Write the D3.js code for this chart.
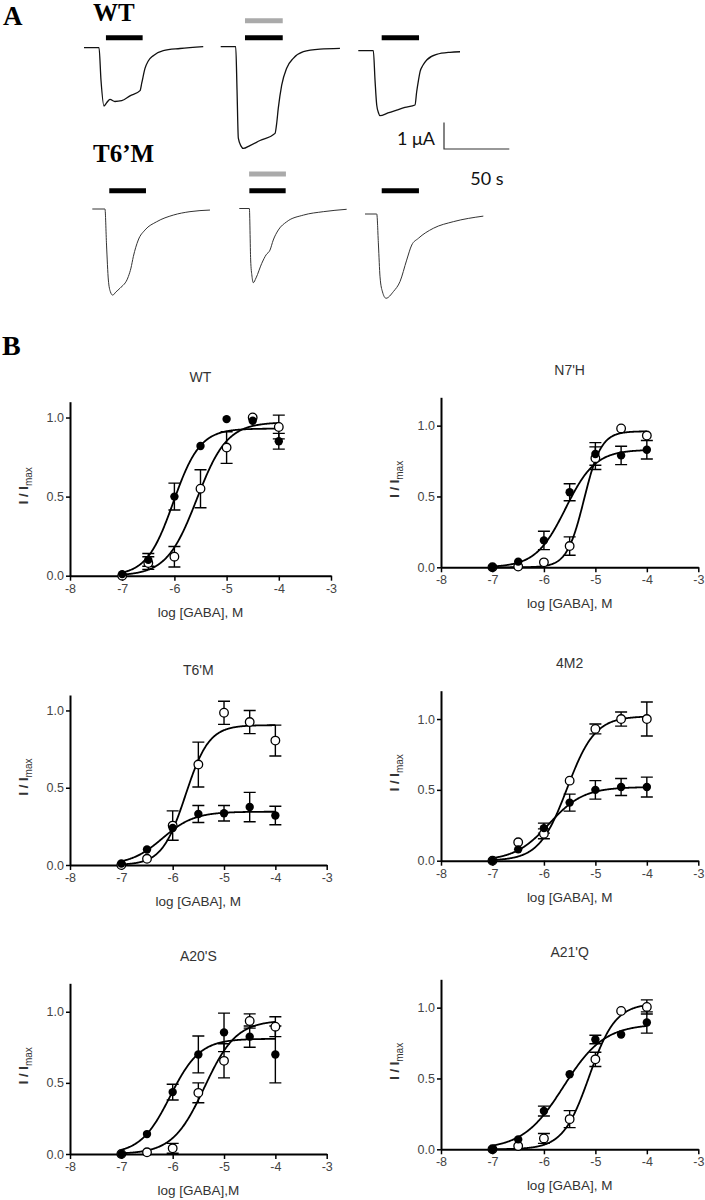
<!DOCTYPE html>
<html><head><meta charset="utf-8">
<script src="https://cdn.jsdelivr.net/npm/d3@7"></script>
<style>body{margin:0;background:#fff}svg{display:block}</style>
</head><body>
<svg id="fig" width="705" height="1200"></svg>
<script>
// ================= DATA =================
// Panel B: concentration-response (log [GABA], M)
const logConc = [-7, -6.5, -6, -5.5, -5, -4.5, -4];
const xTicks = [-8, -7, -6, -5, -4, -3];
const yTicks = [0, 0.5, 1.0];
const panelTitles = ["WT", "N7'H", "T6'M", "4M2", "A20'S", "A21'Q"];
const xLabels = ["log [GABA], M", "log [GABA], M", "log [GABA], M", "log [GABA], M", "log [GABA],M", "log [GABA], M"];
const yMaxes = [1.1, 1.2, 1.1, 1.2, 1.2, 1.2];

// filled circles (mean, SEM) and open circles (mean, SEM)
const wtFilled     = [0.01, 0.10, 0.50, 0.82, 0.99, 0.98, 0.85];
const wtFilledErr  = [0, 0.04, 0.085, 0, 0, 0, 0.05];
const wtOpen       = [0.00, 0.08, 0.12, 0.55, 0.81, 1.00, 0.94];
const wtOpenErr    = [0, 0.04, 0.065, 0.12, 0.10, 0, 0.075];

const n7Filled     = [0.00, 0.04, 0.19, 0.53, 0.80, 0.79, 0.83];
const n7FilledErr  = [0, 0, 0.065, 0.06, 0.08, 0.065, 0.065];
const n7Open       = [0.00, 0.005, 0.035, 0.15, 0.77, 0.98, 0.93];
const n7OpenErr    = [0, 0, 0, 0.065, 0.08, 0, 0];

const t6Filled     = [0.01, 0.10, 0.24, 0.33, 0.335, 0.375, 0.32];
const t6FilledErr  = [0, 0, 0, 0.055, 0.05, 0.095, 0.06];
const t6Open       = [0.00, 0.04, 0.255, 0.65, 0.985, 0.925, 0.805];
const t6OpenErr    = [0, 0, 0.095, 0.145, 0.075, 0.075, 0.10];

const m4Filled     = [0.00, 0.08, 0.23, 0.41, 0.50, 0.52, 0.52];
const m4FilledErr  = [0, 0, 0.035, 0.06, 0.065, 0.06, 0.07];
const m4Open       = [0.00, 0.13, 0.19, 0.565, 0.93, 1.00, 1.00];
const m4OpenErr    = [0, 0, 0.035, 0, 0.035, 0.05, 0.12];

const a20Filled    = [0.00, 0.14, 0.435, 0.70, 0.855, 0.825, 0.70];
const a20FilledErr = [0, 0, 0.055, 0.13, 0.135, 0.075, 0.20];
const a20Open      = [0.00, 0.012, 0.04, 0.43, 0.655, 0.935, 0.895];
const a20OpenErr   = [0, 0, 0.035, 0.07, 0.12, 0.05, 0.07];

const a21Filled    = [0.00, 0.07, 0.27, 0.53, 0.775, 0.81, 0.895];
const a21FilledErr = [0, 0, 0.035, 0, 0.03, 0, 0.075];
const a21Open      = [0.00, 0.023, 0.077, 0.213, 0.635, 0.977, 1.005];
const a21OpenErr   = [0, 0, 0.035, 0.06, 0.05, 0, 0.05];

// Hill fit parameters [top, logEC50, nH]
const wtFilledFit  = [0.93, -6.02, 1.7];
const wtOpenFit    = [0.97, -5.57, 1.5];
const n7FilledFit  = [0.83, -5.58, 1.5];
const n7OpenFit    = [0.96, -5.22, 2.6];
const t6FilledFit  = [0.345, -6.2, 1.4];
const t6OpenFit    = [0.905, -5.75, 1.9];
const m4FilledFit  = [0.52, -5.9, 1.3];
const m4OpenFit    = [1.02, -5.55, 1.6];
const a20FilledFit = [0.81, -6.05, 1.5];
const a20OpenFit   = [0.94, -5.38, 1.4];
const a21FilledFit = [0.885, -5.62, 1.1];
const a21OpenFit   = [1.03, -5.12, 1.7];

// Panel A: current traces (time s, current µA)
const wt1Time = [0, 11.5, 13, 15.3, 17.6, 19.9, 23.7, 28.9, 35.2, 42.9, 44.2, 46.7, 49.2, 53, 60.7, 73.5, 91.3];
const wt1Curr = [0, 0, -1.22, -2.2, -2.06, -1.95, -2.03, -2.0, -1.82, -1.62, -1.34, -0.78, -0.5, -0.3, -0.11, -0.03, 0.04];
const wt2Time = [0, 11.5, 12.5, 13.5, 15.6, 17.3, 22.4, 30.1, 41.6, 42.7, 44.1, 46.7, 50.5, 55.6, 63.3, 76.0, 91.3];
const wt2Curr = [0, 0, -1.63, -3.45, -3.75, -3.84, -3.73, -3.54, -3.27, -2.96, -2.32, -1.45, -0.81, -0.44, -0.19, -0.09, -0.06];
const wt3Time = [0, 11.5, 12.8, 14.1, 15.5, 16.6, 22.7, 29.4, 35.7, 43.4, 44.7, 46.1, 47.3, 49.6, 52.4, 60.0, 70.2, 77.9];
const wt3Curr = [0, 0, -1.11, -2.05, -2.35, -2.45, -2.35, -2.24, -2.14, -2.05, -1.55, -1.11, -0.79, -0.54, -0.35, -0.14, -0.06, -0.04];
const t61Time = [0, 9.7, 10.9, 12.3, 13.9, 15.6, 18.1, 21.2, 27.6, 29.6, 31.4, 35.2, 40.4, 49.3, 62.0, 74.8, 90.1];
const t61Curr = [0, 0, -1.36, -2.68, -3.13, -3.25, -3.13, -2.99, -2.55, -2.23, -1.80, -1.17, -0.79, -0.48, -0.23, -0.10, -0.04];
const t62Time = [0, 7.7, 8.7, 9.7, 10.7, 12.8, 17.2, 20.5, 23.5, 26.0, 29.9, 36.3, 49.0, 64.3, 82.2];
const t62Curr = [0, 0, -1.94, -2.55, -2.80, -2.62, -2.07, -1.75, -1.57, -1.19, -0.81, -0.50, -0.25, -0.12, -0.03];
const t63Time = [0, 9.0, 10.3, 11.5, 13.4, 16.1, 21.7, 26.8, 31.9, 35.8, 40.8, 52.3, 67.6, 90.6];
const t63Curr = [0, 0, -1.17, -2.37, -2.94, -3.18, -2.93, -2.55, -1.74, -1.17, -0.92, -0.54, -0.29, -0.08];
// GABA application bars (s), and co-application (grey) bars
const wtBars   = [[16.8, 44.9], [18.6, 47.5], [17.9, 46.5]];
const wtGrey   = [null, [18.6, 47.5], null];
const t6Bars   = [[13.0, 41.1], [7.7, 35.5], [12.8, 41.3]];
const t6Grey   = [null, [7.5, 35.7], null];
const scaleBarCurrent = 1;   // µA
const scaleBarTime = 50;     // s

// ================= DRAW =================
const svg = d3.select("#fig");
const SANS = "'Liberation Sans', Arial, Helvetica, sans-serif";
const SERIF = "'Liberation Serif', 'Times New Roman', serif";

// ---- Panel A ----
svg.append("text").attr("x", 3).attr("y", 25).text("A")
  .attr("font-family", SERIF).attr("font-weight", "bold").attr("font-size", 27);
svg.append("text").attr("x", 93).attr("y", 20.5).text("WT")
  .attr("font-family", SERIF).attr("font-weight", "bold").attr("font-size", 25);
svg.append("text").attr("x", 93).attr("y", 161.5).text("T6\u2019M")
  .attr("font-family", SERIF).attr("font-weight", "bold").attr("font-size", 25);

const pxPerSec = 65.3 / 50, pxPerUA = 26.5;
const traces = [
  {t: wt1Time, c: wt1Curr, ox: 84,    oy: 47.7, bar: wtBars[0], grey: wtGrey[0], by: 37.7, gy: 20.7, col: "#111", w: 1.3},
  {t: wt2Time, c: wt2Curr, ox: 220.7, oy: 46.7, bar: wtBars[1], grey: wtGrey[1], by: 37.7, gy: 20.7, col: "#111", w: 1.3},
  {t: wt3Time, c: wt3Curr, ox: 358.3, oy: 50.7, bar: wtBars[2], grey: wtGrey[2], by: 37.7, gy: 20.7, col: "#111", w: 1.3},
  {t: t61Time, c: t61Curr, ox: 92.3,  oy: 209,  bar: t6Bars[0], grey: t6Grey[0], by: 190.7, gy: 174, col: "#333", w: 1.0},
  {t: t62Time, c: t62Curr, ox: 239.3, oy: 208.5,bar: t6Bars[1], grey: t6Grey[1], by: 190.7, gy: 174, col: "#333", w: 1.0},
  {t: t63Time, c: t63Curr, ox: 365,   oy: 214,  bar: t6Bars[2], grey: t6Grey[2], by: 190.7, gy: 174, col: "#333", w: 1.0}
];
traces.forEach(tr => {
  const xs = d3.scaleLinear().domain([0, 1]).range([tr.ox, tr.ox + pxPerSec]);
  const ys = d3.scaleLinear().domain([0, 1]).range([tr.oy, tr.oy - pxPerUA]);
  const pts = tr.t.map((d, i) => [d, tr.c[i]]);
  svg.append("path").datum(pts)
    .attr("d", d3.line().x(d => xs(d[0])).y(d => ys(d[1])).curve(d3.curveMonotoneX))
    .attr("fill", "none").attr("stroke", tr.col).attr("stroke-width", tr.w);
  svg.append("line").attr("x1", xs(tr.bar[0])).attr("x2", xs(tr.bar[1]))
    .attr("y1", tr.by).attr("y2", tr.by).attr("stroke", "#000").attr("stroke-width", 5);
  if (tr.grey) svg.append("line").attr("x1", xs(tr.grey[0])).attr("x2", xs(tr.grey[1]))
    .attr("y1", tr.gy).attr("y2", tr.gy).attr("stroke", "#aaa").attr("stroke-width", 5);
});
// scale bar
{
  const sx = d3.scaleLinear().domain([0, 1]).range([444, 444 + pxPerSec]);
  const sy = d3.scaleLinear().domain([0, 1]).range([149, 149 - pxPerUA]);
  svg.append("path")
    .attr("d", `M${sx(0)},${sy(scaleBarCurrent)}L${sx(0)},${sy(0)}L${sx(scaleBarTime)},${sy(0)}`)
    .attr("fill", "none").attr("stroke", "#333").attr("stroke-width", 1.2);
  svg.append("text").attr("x", 435).attr("y", 144.5).attr("text-anchor", "end")
    .attr("font-family", "Lato, 'Open Sans', sans-serif").attr("font-size", 18).attr("fill", "#111")
    .text(scaleBarCurrent + " \u03bcA");
  svg.append("text").attr("x", 487).attr("y", 185).attr("text-anchor", "middle")
    .attr("font-family", "Lato, 'Open Sans', sans-serif").attr("font-size", 18).attr("fill", "#111")
    .text(scaleBarTime + " s");
}

// ---- Panel B ----
svg.append("text").attr("x", 2).attr("y", 355).text("B")
  .attr("font-family", SERIF).attr("font-weight", "bold").attr("font-size", 28);

const panelData = [
  [wtFilled, wtFilledErr, wtOpen, wtOpenErr, wtFilledFit, wtOpenFit],
  [n7Filled, n7FilledErr, n7Open, n7OpenErr, n7FilledFit, n7OpenFit],
  [t6Filled, t6FilledErr, t6Open, t6OpenErr, t6FilledFit, t6OpenFit],
  [m4Filled, m4FilledErr, m4Open, m4OpenErr, m4FilledFit, m4OpenFit],
  [a20Filled, a20FilledErr, a20Open, a20OpenErr, a20FilledFit, a20OpenFit],
  [a21Filled, a21FilledErr, a21Open, a21OpenErr, a21FilledFit, a21OpenFit]
];
const layout = [
  {x0: 70,  x1: 331,   yb: 575.7,  yt: 401.7, ty: 381.5},
  {x0: 441, x1: 698.3, yb: 567.3,  yt: 397.3, ty: 375},
  {x0: 70,  x1: 326.7, yb: 865,    yt: 695,   ty: 675},
  {x0: 441, x1: 698.3, yb: 860.7,  yt: 690.7, ty: 668},
  {x0: 70,  x1: 326.7, yb: 1154,   yt: 983.3, ty: 960.5},
  {x0: 441, x1: 698.3, yb: 1149.3, yt: 979.3, ty: 957}
];
const hill = (p, x) => p[0] / (1 + Math.pow(10, (p[1] - x) * p[2]));
const fitX = d3.range(0, 301).map(i => -7 + i * 0.01);

layout.forEach((L, k) => {
  const [fM, fE, oM, oE, fFit, oFit] = panelData[k];
  const x = d3.scaleLinear().domain([-8, -3]).range([L.x0, L.x1]);
  const y = d3.scaleLinear().domain([0, yMaxes[k]]).range([L.yb, L.yt]);
  const g = svg.append("g");

  // axes
  const ya = g.append("g").attr("transform", `translate(${L.x0},0)`)
    .call(d3.axisLeft(y).tickValues(yTicks).tickFormat(d3.format(".1f")).tickSize(4).tickSizeOuter(0).tickPadding(2));
  const xa = g.append("g").attr("transform", `translate(0,${L.yb})`)
    .call(d3.axisBottom(x).tickValues(xTicks).tickFormat(d => String(d)).tickSize(5).tickSizeOuter(0).tickPadding(3));
  [ya, xa].forEach(a => {
    a.select(".domain").attr("stroke", "#000").attr("stroke-width", 2);
    a.selectAll(".tick line").attr("stroke", "#000").attr("stroke-width", 1.5);
    a.selectAll(".tick text").attr("fill", "#444").attr("font-size", 12.5).attr("font-family", SANS);
  });

  // fits
  [fFit, oFit].forEach(p => {
    g.append("path").datum(fitX)
      .attr("d", d3.line().x(d => x(d)).y(d => y(hill(p, d))))
      .attr("fill", "none").attr("stroke", "#000").attr("stroke-width", 1.8);
  });

  // error bars
  const eb = (M, E) => logConc.forEach((c, i) => {
    if (E[i] <= 0) return;
    const cx = x(c), ya1 = y(M[i] + E[i]), ya2 = y(M[i] - E[i]);
    g.append("path")
      .attr("d", `M${cx},${ya1}L${cx},${ya2}M${cx - 6},${ya1}L${cx + 6},${ya1}M${cx - 6},${ya2}L${cx + 6},${ya2}`)
      .attr("stroke", "#000").attr("stroke-width", 1.4).attr("fill", "none");
  });
  eb(oM, oE); eb(fM, fE);

  // points
  g.selectAll(".o").data(logConc).join("circle")
    .attr("cx", d => x(d)).attr("cy", (d, i) => y(oM[i])).attr("r", 4.3)
    .attr("fill", "#fff").attr("stroke", "#000").attr("stroke-width", 1.3);
  g.selectAll(".f").data(logConc).join("circle")
    .attr("cx", d => x(d)).attr("cy", (d, i) => y(fM[i])).attr("r", 4.2)
    .attr("fill", "#000");

  // labels
  const cxm = (L.x0 + L.x1) / 2;
  g.append("text").attr("x", cxm).attr("y", L.ty).attr("text-anchor", "middle")
    .attr("font-family", SANS).attr("font-size", 14).attr("fill", "#333").text(panelTitles[k]);
  g.append("text").attr("x", cxm).attr("y", L.yb + 41).attr("text-anchor", "middle")
    .attr("font-family", SANS).attr("font-size", 13.5).attr("fill", "#333").text(xLabels[k]);
  const yl = g.append("text").attr("transform", `translate(${L.x0 - 42},${(L.yb + L.yt) / 2 - 3}) rotate(-90)`)
    .attr("text-anchor", "middle").attr("font-family", SANS).attr("font-size", 13).attr("font-weight", "bold").attr("fill", "#333");
  yl.append("tspan").text("I / I");
  yl.append("tspan").attr("font-size", 10).attr("font-weight", "normal").attr("dy", 4).text("max");
});
</script>
</body></html>
